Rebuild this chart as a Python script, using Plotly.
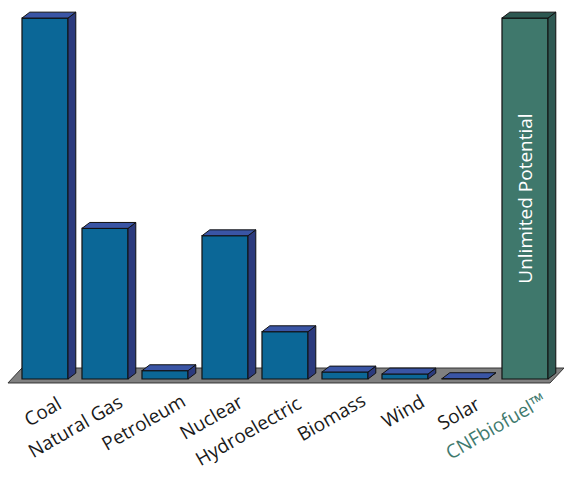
import math
import plotly.graph_objects as go

categories = ["Coal", "Natural Gas", "Petroleum", "Nuclear", "Hydroelectric",
              "Biomass", "Wind", "Solar", "CNFbiofuel™"]
values = [49.0, 20.45, 1.13, 19.45, 6.42, 0.95, 0.68, 0.05, 49.0]
bar_text = ["", "", "", "", "", "", "", "", "Unlimited Potential"]

front_colors = ["#0b6797"] * 8 + ["#3f786c"]
top_colors = ["#3a55a5"] * 8 + ["#2d5851"]
side_colors = ["#2b3a7d"] * 8 + ["#2f5953"]
label_colors = ["#1a1a1a"] * 8 + ["#3f7a6e"]

BAR_W = 0.767
DX, DY = 0.13, 0.8
FONT = "Open Sans"
LABEL_SIZE = 19
LABEL_ANGLE = 30
LABEL_DX, LABEL_Y = 0.22, -3.1
PX_X, PX_Y = 60.0, 7.367   # pixels per data unit (x, y)

n = len(categories)
xs = list(range(n))

fig = go.Figure()

# floor
fl_l, fl_r = -0.617, n - 1 + 0.417
fl_y0, fl_y1, fl_dx = -0.54, 1.49, 0.233
fig.add_shape(
    type="path", xref="x", yref="y", layer="below",
    path=(f"M {fl_l},{fl_y0} L {fl_r},{fl_y0} L {fl_r + fl_dx},{fl_y1} "
          f"L {fl_l + fl_dx},{fl_y1} Z"),
    fillcolor="#808080", line=dict(color="#333333", width=1))

# side and top faces
for i, v in enumerate(values):
    xl, xr = xs[i] - BAR_W / 2, xs[i] + BAR_W / 2
    fig.add_trace(go.Scatter(
        x=[xr, xr + DX, xr + DX, xr, xr],
        y=[0, DY, v + DY, v, 0],
        fill="toself", fillcolor=side_colors[i], mode="lines",
        line=dict(color="#111111", width=1), hoverinfo="skip"))
    fig.add_trace(go.Scatter(
        x=[xl, xr, xr + DX, xl + DX, xl],
        y=[v, v, v + DY, v + DY, v],
        fill="toself", fillcolor=top_colors[i], mode="lines",
        line=dict(color="#111111", width=1), hoverinfo="skip"))

# front faces
fig.add_trace(go.Bar(
    x=xs, y=values, width=BAR_W,
    marker=dict(color=front_colors, line=dict(color="#111111", width=1.2)),
    text=bar_text, textposition="inside", insidetextanchor="middle",
    textangle=-90, textfont=dict(family=FONT, size=19, color="white"),
    hoverinfo="skip"))

# rotated category labels, each ending just right of its bar
a = math.radians(LABEL_ANGLE)
for i, c in enumerate(categories):
    half = 0.47 * LABEL_SIZE * len(c) / 2.0
    cx = xs[i] + LABEL_DX - half * math.cos(a) / PX_X
    cy = LABEL_Y - half * math.sin(a) / PX_Y
    fig.add_annotation(
        x=cx, y=cy, text=c, textangle=-LABEL_ANGLE, showarrow=False,
        font=dict(size=LABEL_SIZE, color=label_colors[i]))

fig.update_layout(
    width=564, height=485, autosize=False,
    margin=dict(l=0, r=0, t=0, b=0),
    paper_bgcolor="white", plot_bgcolor="white",
    showlegend=False, barmode="overlay",
    xaxis=dict(range=[-0.75, 8.65], visible=False, fixedrange=True),
    yaxis=dict(range=[-14.39, 51.45], visible=False, fixedrange=True),
)

fig.write_html("out.html")
